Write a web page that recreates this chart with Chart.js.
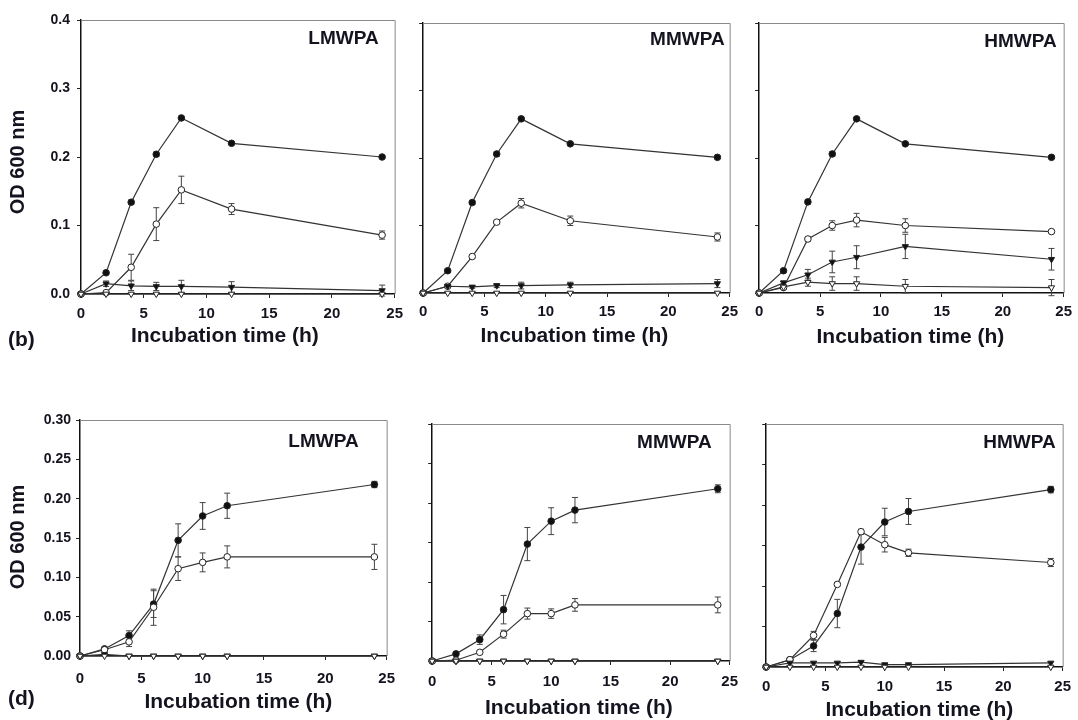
<!DOCTYPE html>
<html lang="en">
<head>
  <meta charset="UTF-8">
  <title>OD 600 nm growth curves</title>
  <script src="https://cdn.jsdelivr.net/npm/chart.js"></script>
  <style>
    body {
      margin: 0;
      width: 1078px;
      height: 720px;
      overflow: hidden;
      background: #fff;
      position: relative;
      font-family: "Liberation Sans", Arial, sans-serif;
    }
    canvas {
      position: absolute;
    }
    .tag {
      position: absolute;
      font-weight: bold;
      font-size: 21px;
      line-height: 1;
      color: #141420;
    }
  </style>
</head>
<body>
  <canvas id="bL"></canvas>
  <canvas id="bM"></canvas>
  <canvas id="bH"></canvas>
  <canvas id="dL"></canvas>
  <canvas id="dM"></canvas>
  <canvas id="dH"></canvas>
  <div class="tag" style="left:8px;top:328px">(b)</div>
  <div class="tag" style="left:8px;top:687px">(d)</div>

  <script>
    // x values (incubation time, h)
    const hoursB = [0, 2, 4, 6, 8, 12, 24];
    const hoursD = [0, 2, 4, 6, 8, 10, 12, 24];

    // y tick labels
    const yLabelsB = ['0.0', '0.1', '0.2', '0.3', '0.4'];
    const yLabelsD = ['0.00', '0.05', '0.10', '0.15', '0.20', '0.25', '0.30'];

    // (b) LMWPA
    const bL_fill = [0, 0.031, 0.134, 0.204, 0.257, 0.220, 0.200];
    const bL_fillErr = [0, 0.002, 0.003, 0.003, 0.002, 0.002, 0.002];
    const bL_open = [0, 0.002, 0.039, 0.102, 0.152, 0.124, 0.086];
    const bL_openErr = [0, 0.002, 0.019, 0.024, 0.020, 0.008, 0.006];
    const bL_tri = [0, 0.015, 0.012, 0.011, 0.011, 0.010, 0.005];
    const bL_triErr = [0, 0.004, 0.007, 0.006, 0.009, 0.008, 0.008];
    const bL_otri = [0, 0, 0, 0, 0, 0, 0];

    // (b) MMWPA
    const bM_fill = [0, 0.033, 0.134, 0.206, 0.258, 0.221, 0.201];
    const bM_fillErr = [0, 0.002, 0.003, 0.003, 0.002, 0.002, 0.002];
    const bM_open = [0, 0.010, 0.054, 0.105, 0.133, 0.107, 0.083];
    const bM_openErr = [0, 0.001, 0.002, 0.002, 0.007, 0.007, 0.006];
    const bM_tri = [0, 0.010, 0.009, 0.011, 0.011, 0.012, 0.014];
    const bM_triErr = [0, 0.002, 0.002, 0.003, 0.005, 0.004, 0.006];
    const bM_otri = [0, 0, 0, 0, 0, 0, 0];

    // (b) HMWPA
    const bH_fill = [0, 0.033, 0.135, 0.206, 0.258, 0.221, 0.201];
    const bH_fillErr = [0, 0.002, 0.003, 0.003, 0.002, 0.002, 0.002];
    const bH_open = [0, 0.008, 0.080, 0.100, 0.108, 0.100, 0.091];
    const bH_openErr = [0, 0.002, 0.003, 0.007, 0.010, 0.010, 0.002];
    const bH_tri = [0, 0.015, 0.027, 0.046, 0.053, 0.069, 0.050];
    const bH_triErr = [0, 0.003, 0.008, 0.016, 0.017, 0.018, 0.016];
    const bH_otri = [0, 0.009, 0.016, 0.014, 0.014, 0.010, 0.008];
    const bH_otriErr = [0, 0.003, 0.006, 0.010, 0.010, 0.010, 0.012];

    // (d) LMWPA
    const dL_fill = [0, 0.009, 0.026, 0.066, 0.147, 0.178, 0.191, 0.218];
    const dL_fillErr = [0, 0.001, 0.006, 0.017, 0.021, 0.017, 0.016, 0.004];
    const dL_open = [0, 0.008, 0.018, 0.062, 0.111, 0.119, 0.126, 0.126];
    const dL_openErr = [0, 0.001, 0.006, 0.023, 0.015, 0.012, 0.014, 0.016];
    const dL_tri = [0, 0.002, 0, 0, 0, 0, 0, 0];
    const dL_otri = [0, 0, 0, 0, 0, 0, 0, 0];

    // (d) MMWPA
    const dM_fill = [0, 0.009, 0.027, 0.065, 0.148, 0.177, 0.191, 0.218];
    const dM_fillErr = [0, 0.001, 0.006, 0.018, 0.021, 0.017, 0.016, 0.005];
    const dM_open = [0, 0.001, 0.011, 0.034, 0.060, 0.060, 0.071, 0.071];
    const dM_openErr = [0, 0, 0.002, 0.005, 0.007, 0.006, 0.008, 0.010];
    const dM_tri = [0, 0, 0, 0, 0, 0, 0, 0];
    const dM_otri = [0, 0, 0, 0, 0, 0, 0, 0];

    // (d) HMWPA
    const dH_fill = [0, 0.009, 0.026, 0.066, 0.148, 0.179, 0.192, 0.219];
    const dH_fillErr = [0, 0.001, 0.007, 0.0175, 0.021, 0.017, 0.016, 0.004];
    const dH_open = [0, 0.009, 0.039, 0.102, 0.167, 0.151, 0.141, 0.129];
    const dH_openErr = [0, 0.001, 0.005, 0.002, 0.003, 0.009, 0.0045, 0.005];
    const dH_tri = [0, 0.005, 0.005, 0.005, 0.006, 0.003, 0.003, 0.005];
    const dH_otri = [0, 0, 0, 0, 0, 0, 0, 0];

    const FONT = '"Liberation Sans", Arial, sans-serif';
    const INK = '#141420';
    const X_TITLE = 'Incubation time (h)';
    const Y_TITLE = 'OD 600 nm';

    // vertical error bars drawn from each dataset's errors array
    const errorBars = {
      id: 'errorBars',
      beforeDatasetsDraw(chart) {
        const ctx = chart.ctx;
        const yScale = chart.scales.y;
        chart.data.datasets.forEach((ds, i) => {
          if (!ds.errors) return;
          const meta = chart.getDatasetMeta(i);
          ctx.save();
          ctx.strokeStyle = '#444';
          ctx.lineWidth = 1;
          meta.data.forEach((pt, j) => {
            const e = ds.errors[j];
            if (!e) return;
            const v = ds.data[j].y;
            const y1 = yScale.getPixelForValue(v + e);
            const y2 = yScale.getPixelForValue(v - e);
            ctx.beginPath();
            ctx.moveTo(pt.x, y1); ctx.lineTo(pt.x, y2);
            ctx.moveTo(pt.x - 3, y1); ctx.lineTo(pt.x + 3, y1);
            ctx.moveTo(pt.x - 3, y2); ctx.lineTo(pt.x + 3, y2);
            ctx.stroke();
          });
          ctx.restore();
        });
      }
    };

    // grey top/right frame, panel name and axis titles
    const panelFrame = {
      id: 'panelFrame',
      afterDraw(chart, args, opts) {
        const { ctx, chartArea: a } = chart;
        ctx.save();
        ctx.strokeStyle = '#8a8a8a';
        ctx.lineWidth = 1;
        ctx.beginPath();
        ctx.moveTo(a.left, a.top + 0.5);
        ctx.lineTo(a.right + 0.5, a.top + 0.5);
        ctx.lineTo(a.right + 0.5, a.bottom);
        ctx.stroke();

        ctx.fillStyle = INK;
        ctx.textBaseline = 'middle';
        ctx.font = 'bold 19px ' + FONT;
        ctx.textAlign = 'right';
        ctx.fillText(opts.text, a.right - opts.dx, a.top + opts.dy);

        ctx.font = 'bold 21px ' + FONT;
        ctx.textAlign = 'center';
        ctx.fillText(X_TITLE, (a.left + a.right) / 2 + opts.xShift, a.bottom + opts.xDy);

        if (opts.yTitle) {
          ctx.font = 'bold 20px ' + FONT;
          ctx.translate(18, (a.top + a.bottom) / 2 + opts.yShift);
          ctx.rotate(-Math.PI / 2);
          ctx.fillText(Y_TITLE, 0, 0);
        }
        ctx.restore();
      }
    };

    function series(hours, values, errors, style, filled) {
      return {
        data: hours.map((h, i) => ({ x: h, y: values[i] })),
        errors: errors,
        borderColor: '#333',
        borderWidth: 1.2,
        pointStyle: style,
        pointRotation: style === 'triangle' ? 180 : 0,
        pointRadius: style === 'triangle' ? 3.6 : 3.3,
        pointBackgroundColor: filled ? '#111' : '#fff',
        pointBorderColor: '#222',
        pointBorderWidth: 1,
        tension: 0,
        clip: false
      };
    }

    function makePanel(id, box, datasets, name, yMax, yStep, yLabels) {
      const canvas = document.getElementById(id);
      const left = box.plotL - box.yW;
      const top = box.plotT - 20;
      canvas.style.left = left + 'px';
      canvas.style.top = top + 'px';
      canvas.width = box.plotR + box.padR - left;
      canvas.height = box.plotB + box.xH - top;

      new Chart(canvas, {
        type: 'line',
        data: { datasets: datasets },
        options: {
          responsive: false,
          animation: false,
          events: [],
          layout: { padding: { top: 20, right: box.padR, left: 0, bottom: 0 } },
          plugins: {
            legend: { display: false },
            tooltip: { enabled: false },
            panelFrame: name
          },
          scales: {
            x: {
              type: 'linear',
              min: 0,
              max: 25,
              ticks: { stepSize: 5, padding: box.xPad, color: INK, font: { family: FONT, size: 15, weight: 'bold' } },
              grid: { drawOnChartArea: false, tickLength: 4, color: '#222' },
              border: { color: '#111', width: 1.5 },
              afterFit: s => { s.height = box.xH; }
            },
            y: {
              min: 0,
              max: yMax,
              ticks: {
                stepSize: yStep,
                display: !!yLabels,
                padding: box.yPad || 3,
                color: INK,
                font: { family: FONT, size: 14, weight: 'bold' },
                callback: (v, i) => yLabels ? yLabels[i] : ''
              },
              grid: { drawOnChartArea: false, tickLength: 4, color: '#222' },
              border: { color: '#111', width: 1.5 },
              afterFit: s => { s.width = box.yW; }
            }
          }
        },
        plugins: [errorBars, panelFrame]
      });
    }

    makePanel('bL', { plotL: 81, plotT: 20, plotR: 396, plotB: 294, yW: 81, padR: 14, xH: 58, xPad: 7, yPad: 7 }, [
      series(hoursB, bL_otri, null, 'triangle', false),
      series(hoursB, bL_tri, bL_triErr, 'triangle', true),
      series(hoursB, bL_open, bL_openErr, 'circle', false),
      series(hoursB, bL_fill, bL_fillErr, 'circle', true)
    ], { text: 'LMWPA', dx: 16, dy: 19, xShift: -13, xDy: 42, yTitle: true, yShift: 5 }, 0.4, 0.1, yLabelsB);

    makePanel('bM', { plotL: 423, plotT: 23, plotR: 730, plotB: 293, yW: 10, padR: 14, xH: 58, xPad: 6 }, [
      series(hoursB, bM_otri, null, 'triangle', false),
      series(hoursB, bM_tri, bM_triErr, 'triangle', true),
      series(hoursB, bM_open, bM_openErr, 'circle', false),
      series(hoursB, bM_fill, bM_fillErr, 'circle', true)
    ], { text: 'MMWPA', dx: 5, dy: 17, xShift: -2, xDy: 43 }, 0.4, 0.1, null);

    makePanel('bH', { plotL: 759, plotT: 23, plotR: 1068, plotB: 293, yW: 10, padR: 10, xH: 58, xPad: 6 }, [
      series(hoursB, bH_otri, bH_otriErr, 'triangle', false),
      series(hoursB, bH_tri, bH_triErr, 'triangle', true),
      series(hoursB, bH_open, bH_openErr, 'circle', false),
      series(hoursB, bH_fill, bH_fillErr, 'circle', true)
    ], { text: 'HMWPA', dx: 7, dy: 19, xShift: -1, xDy: 44 }, 0.4, 0.1, null);

    makePanel('dL', { plotL: 80, plotT: 420, plotR: 391, plotB: 656, yW: 80, padR: 14, xH: 60, xPad: 10, yPad: 5 }, [
      series(hoursD, dL_otri, null, 'triangle', false),
      series(hoursD, dL_tri, null, 'triangle', true),
      series(hoursD, dL_open, dL_openErr, 'circle', false),
      series(hoursD, dL_fill, dL_fillErr, 'circle', true)
    ], { text: 'LMWPA', dx: 28, dy: 22, xShift: 5, xDy: 46, yTitle: true, yShift: -1 }, 0.30, 0.05, yLabelsD);

    makePanel('dM', { plotL: 430, plotT: 424, plotR: 732, plotB: 661, yW: 10, padR: 14, xH: 59, xPad: 8 }, [
      series(hoursD, dM_otri, null, 'triangle', false),
      series(hoursD, dM_tri, null, 'triangle', true),
      series(hoursD, dM_open, dM_openErr, 'circle', false),
      series(hoursD, dM_fill, dM_fillErr, 'circle', true)
    ], { text: 'MMWPA', dx: 18, dy: 19, xShift: -2, xDy: 47 }, 0.30, 0.05, null);

    makePanel('dH', { plotL: 765, plotT: 424, plotR: 1066, plotB: 667, yW: 10, padR: 12, xH: 53, xPad: 7 }, [
      series(hoursD, dH_otri, null, 'triangle', false),
      series(hoursD, dH_tri, null, 'triangle', true),
      series(hoursD, dH_open, dH_openErr, 'circle', false),
      series(hoursD, dH_fill, dH_fillErr, 'circle', true)
    ], { text: 'HMWPA', dx: 7, dy: 19, xShift: 5, xDy: 43 }, 0.30, 0.05, null);
  </script>
</body>
</html>
